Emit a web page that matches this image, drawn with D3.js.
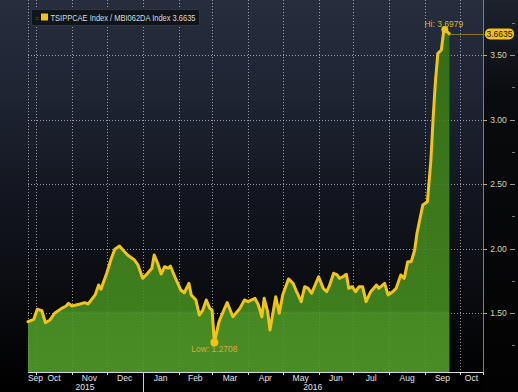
<!DOCTYPE html>
<html><head><meta charset="utf-8">
<script src="https://cdn.jsdelivr.net/npm/d3@7"></script>
<style>html,body{margin:0;padding:0;background:#000;overflow:hidden}svg{display:block}</style>
</head><body><svg id="c" width="518" height="392"></svg>
<script>
const dates = ["2015-09-24","2015-09-29","2015-10-02","2015-10-06","2015-10-09","2015-10-13","2015-10-17","2015-10-23","2015-10-27","2015-10-29",
"2015-11-01","2015-11-08","2015-11-12","2015-11-15","2015-11-18","2015-11-21","2015-11-24","2015-11-26","2015-12-01","2015-12-05",
"2015-12-08","2015-12-12","2015-12-15","2015-12-19","2015-12-25","2015-12-28","2016-01-01","2016-01-04","2016-01-09","2016-01-11",
"2016-01-14","2016-01-17","2016-01-20","2016-01-23","2016-01-25","2016-01-27","2016-01-30","2016-02-03","2016-02-06","2016-02-10",
"2016-02-12","2016-02-16","2016-02-19","2016-02-22","2016-02-25","2016-02-28","2016-03-01","2016-03-03","2016-03-07","2016-03-10",
"2016-03-14","2016-03-19","2016-03-25","2016-03-29","2016-04-01","2016-04-07","2016-04-10","2016-04-13","2016-04-15","2016-04-18",
"2016-04-20","2016-04-22","2016-04-25","2016-04-28","2016-05-01","2016-05-06","2016-05-10","2016-05-13","2016-05-17","2016-05-20",
"2016-05-23","2016-05-26","2016-06-01","2016-06-05","2016-06-08","2016-06-10","2016-06-14","2016-06-17","2016-06-19","2016-06-22",
"2016-06-25","2016-06-27","2016-06-30","2016-07-03","2016-07-06","2016-07-09","2016-07-12","2016-07-16","2016-07-21","2016-07-23",
"2016-07-28","2016-07-31","2016-08-04","2016-08-07","2016-08-11","2016-08-14","2016-08-17","2016-08-20","2016-08-23","2016-08-25",
"2016-08-30","2016-09-03","2016-09-06","2016-09-08","2016-09-10","2016-09-12","2016-09-15","2016-09-17","2016-09-18","2016-09-22"];
const values = [1.433,1.451,1.529,1.518,1.425,1.446,1.498,1.536,1.554,1.575,
1.554,1.570,1.580,1.570,1.606,1.640,1.717,1.684,1.808,1.924,
1.994,2.019,1.988,1.950,1.911,1.872,1.769,1.795,1.847,1.950,
1.885,1.802,1.859,1.847,1.864,1.820,1.756,1.678,1.657,1.730,
1.640,1.601,1.484,1.523,1.601,1.536,1.523,1.2708,1.433,1.498,
1.580,1.471,1.536,1.601,1.588,1.614,1.562,1.471,1.614,1.510,
1.368,1.471,1.626,1.498,1.640,1.764,1.730,1.665,1.588,1.704,
1.691,1.653,1.781,1.691,1.665,1.704,1.808,1.795,1.769,1.781,
1.800,1.691,1.704,1.665,1.704,1.704,1.588,1.665,1.717,1.691,
1.730,1.640,1.665,1.691,1.795,1.769,1.898,1.898,1.988,2.118,
2.337,2.363,2.686,3.022,3.306,3.513,3.539,3.681,3.6979,3.6635];
const yTicks = [1.5, 2.0, 2.5, 3.0, 3.5];
const yTickLabels = ["1.50","2.00","2.50","3.00","3.50"];
const yMinorTicks = [1.25, 1.75, 2.25, 2.75, 3.25, 3.75];
const monthLabels = ["Sep","Oct","Nov","Dec","Jan","Feb","Mar","Apr","May","Jun","Jul","Aug","Sep","Oct"];
const yearLabels = ["2015","2016"];
const legendText = "TSIPPCAE Index / MBI062DA Index 3.6635";
const lastLabel = "3.6635";
const hiLabel = "Hi: 3.6979";
const lowLabel = "Low: 1.2708";

const parse = d3.timeParse("%Y-%m-%d");
const data = dates.map((d, i) => ({date: parse(d), value: values[i]}));

const W = 518, H = 392;
const L = 28, R = 483, T = 0, B = 372;
const x = d3.scaleTime().domain([parse("2015-09-24"), parse("2016-10-21")]).range([L, R]);
const y = d3.scaleLinear().domain([1.5, 3.5]).range([313, 55]);

const svg = d3.select("#c");
const defs = svg.append("defs");
const bg = defs.append("linearGradient").attr("id","bg").attr("x1",0).attr("y1",0).attr("x2",0).attr("y2",1);
[[0,"#262e3e"],[0.25,"#1d2432"],[0.5,"#131620"],[0.72,"#0b0d12"],[1,"#000000"]].forEach(s=>bg.append("stop").attr("offset",s[0]).attr("stop-color",s[1]));
const rg = defs.append("linearGradient").attr("id","rg").attr("x1",0).attr("y1",0).attr("x2",0).attr("y2",1);
[[0,"#1d222d"],[0.25,"#0a0b0e"],[1,"#020202"]].forEach(s=>rg.append("stop").attr("offset",s[0]).attr("stop-color",s[1]));
const gg = defs.append("linearGradient").attr("id","gg").attr("gradientUnits","userSpaceOnUse").attr("x1",0).attr("y1",0).attr("x2",0).attr("y2",B);
[[0,"#316b15"],[0.5,"#3b771c"],[0.835,"#3f7e1e"],[0.84,"#468922"],[1,"#4a8d24"]].forEach(s=>gg.append("stop").attr("offset",s[0]).attr("stop-color",s[1]));

svg.append("rect").attr("width",W).attr("height",H).attr("fill","url(#bg)");
svg.append("rect").attr("x",R).attr("width",W-R).attr("height",H).attr("fill","url(#rg)");

const months = d3.timeMonth.range(parse("2015-09-01"), parse("2016-11-01"));
const gridX = months.filter(m => x(m) > L && x(m) < R);

function grid(g, op) {
  g.selectAll(".gx").data(gridX).join("line")
    .attr("x1", d => Math.round(x(d)) + 0.5).attr("x2", d => Math.round(x(d)) + 0.5)
    .attr("y1", T).attr("y2", B)
    .attr("stroke", "#b8bcc4").attr("stroke-dasharray", "1,2").attr("opacity", op);
  g.selectAll(".gy").data(yTicks).join("line")
    .attr("x1", L).attr("x2", R)
    .attr("y1", d => Math.round(y(d)) + 0.5).attr("y2", d => Math.round(y(d)) + 0.5)
    .attr("stroke", "#b8bcc4").attr("stroke-dasharray", "1,2").attr("opacity", op);
  g.append("line").attr("x1", L + 0.5).attr("x2", L + 0.5).attr("y1", T).attr("y2", B)
    .attr("stroke", "#b8bcc4").attr("stroke-dasharray", "1,2").attr("opacity", op);
}
grid(svg.append("g"), 0.75);

const area = d3.area().x(d => x(d.date)).y0(B).y1(d => y(d.value));
svg.append("path").datum(data).attr("d", area).attr("fill", "url(#gg)");
grid(svg.append("g"), 0.18);

const line = d3.line().x(d => x(d.date)).y(d => y(d.value));
svg.append("path").datum(data).attr("d", line).attr("fill","none")
  .attr("stroke","#f0c419").attr("stroke-width",3).attr("stroke-linejoin","round").attr("stroke-linecap","round");

// right axis
svg.append("line").attr("x1",R+0.5).attr("x2",R+0.5).attr("y1",0).attr("y2",B).attr("stroke","#8d8432").attr("stroke-width",1);
const ra = svg.append("g").attr("font-family","Liberation Sans, Arial, sans-serif").attr("font-size",8.5);
ra.selectAll(".t1").data(yTicks).join("line")
  .attr("x1",R).attr("x2",R+4).attr("y1",d=>Math.round(y(d))+0.5).attr("y2",d=>Math.round(y(d))+0.5)
  .attr("stroke","#c9b43a");
ra.selectAll(".t2").data(yTicks).join("line")
  .attr("x1",510).attr("x2",515).attr("y1",d=>Math.round(y(d))+0.5).attr("y2",d=>Math.round(y(d))+0.5)
  .attr("stroke","#9a9a9a");
ra.selectAll(".t3").data(yMinorTicks).join("line")
  .attr("x1",512).attr("x2",515).attr("y1",d=>Math.round(y(d))+0.5).attr("y2",d=>Math.round(y(d))+0.5)
  .attr("stroke","#7a7a7a");
ra.selectAll("text").data(yTicks).join("text")
  .attr("x",498.5).attr("y",d=>y(d)+3).attr("text-anchor","middle")
  .attr("fill","#d8d2a4").text((d,i)=>yTickLabels[i]);

// bottom axis
svg.append("line").attr("x1",L).attr("x2",R).attr("y1",B+0.5).attr("y2",B+0.5).attr("stroke","#d8d8d8").attr("stroke-width",1);
const ba = svg.append("g").attr("font-family","Liberation Sans, Arial, sans-serif").attr("font-size",8.5).attr("fill","#e2e2e2");
ba.selectAll("line").data(gridX.concat([x.domain()[1]])).join("line")
  .attr("x1",d=>Math.round(x(d))+0.5).attr("x2",d=>Math.round(x(d))+0.5)
  .attr("y1",B).attr("y2",B+3).attr("stroke","#d8d8d8");
ba.selectAll("text.m").data(months).join("text").attr("class","m")
  .attr("x", d => {
    const s = Math.max(x(d), L), e = Math.min(x(d3.timeMonth.offset(d,1)), R);
    let c = (s + e) / 2;
    return Math.min(Math.max(c, 35.5), 474);
  })
  .attr("y", 381).attr("text-anchor","middle").text((d,i)=>monthLabels[i]);
const yearStart = parse("2016-01-01");
svg.append("line").attr("x1",Math.round(x(yearStart))+0.5).attr("x2",Math.round(x(yearStart))+0.5)
  .attr("y1",B).attr("y2",H).attr("stroke","#cfcfcf");
ba.append("text").attr("x",x(parse("2015-11-14"))-2).attr("y",390).attr("text-anchor","middle").text(yearLabels[0]);
ba.append("text").attr("x",x(parse("2016-05-27"))).attr("y",390).attr("text-anchor","middle").text(yearLabels[1]);

// legend
const lg = svg.append("g");
lg.append("rect").attr("x",31.5).attr("y",9.5).attr("width",168).attr("height",16).attr("rx",1.5)
  .attr("fill","#10151b").attr("stroke","#2e353f");
lg.append("text").attr("x",35).attr("y",20).attr("font-family","DejaVu Sans, sans-serif").attr("font-size",6).attr("fill","#9a9a9a").text("::");
lg.append("rect").attr("x",41).attr("y",13.5).attr("width",7).attr("height",7).attr("fill","#f2c214");
lg.append("text").attr("x",50.5).attr("y",21).attr("font-family","Liberation Sans, Arial, sans-serif").attr("font-size",9)
  .attr("fill","#dcdcdc").attr("textLength",145).attr("lengthAdjust","spacingAndGlyphs").text(legendText);

// last value marker
const last = data[data.length-1];
svg.append("line").attr("x1",x(last.date)).attr("x2",486).attr("y1",Math.round(y(last.value))+0.5).attr("y2",Math.round(y(last.value))+0.5)
  .attr("stroke","#8a7220").attr("stroke-width",1);
svg.append("rect").attr("x",485).attr("y",y(last.value)-5.5).attr("width",29).attr("height",11).attr("rx",5)
  .attr("fill","#f2c214");
svg.append("text").attr("x",499.5).attr("y",y(last.value)+3).attr("text-anchor","middle")
  .attr("font-family","Liberation Sans, Arial, sans-serif").attr("font-size",8.5).attr("fill","#111").text(lastLabel);

// hi / low
const hi = data.reduce((a,b)=>b.value>a.value?b:a);
const lo = data.reduce((a,b)=>b.value<a.value?b:a);
svg.append("circle").attr("cx",x(hi.date)).attr("cy",y(hi.value)).attr("r",3.5).attr("fill","#f2c214");
svg.append("text").attr("x",x(hi.date)-1).attr("y",y(hi.value)-2).attr("text-anchor","middle")
  .attr("font-family","Liberation Sans, Arial, sans-serif").attr("font-size",8.5).attr("fill","#d6b636").text(hiLabel);
svg.append("circle").attr("cx",x(lo.date)).attr("cy",y(lo.value)).attr("r",4).attr("fill","#f2c214");
svg.append("text").attr("x",x(lo.date)).attr("y",y(lo.value)+9).attr("text-anchor","middle")
  .attr("font-family","Liberation Sans, Arial, sans-serif").attr("font-size",8.5).attr("fill","#cdb23a").text(lowLabel);
</script></body></html>
